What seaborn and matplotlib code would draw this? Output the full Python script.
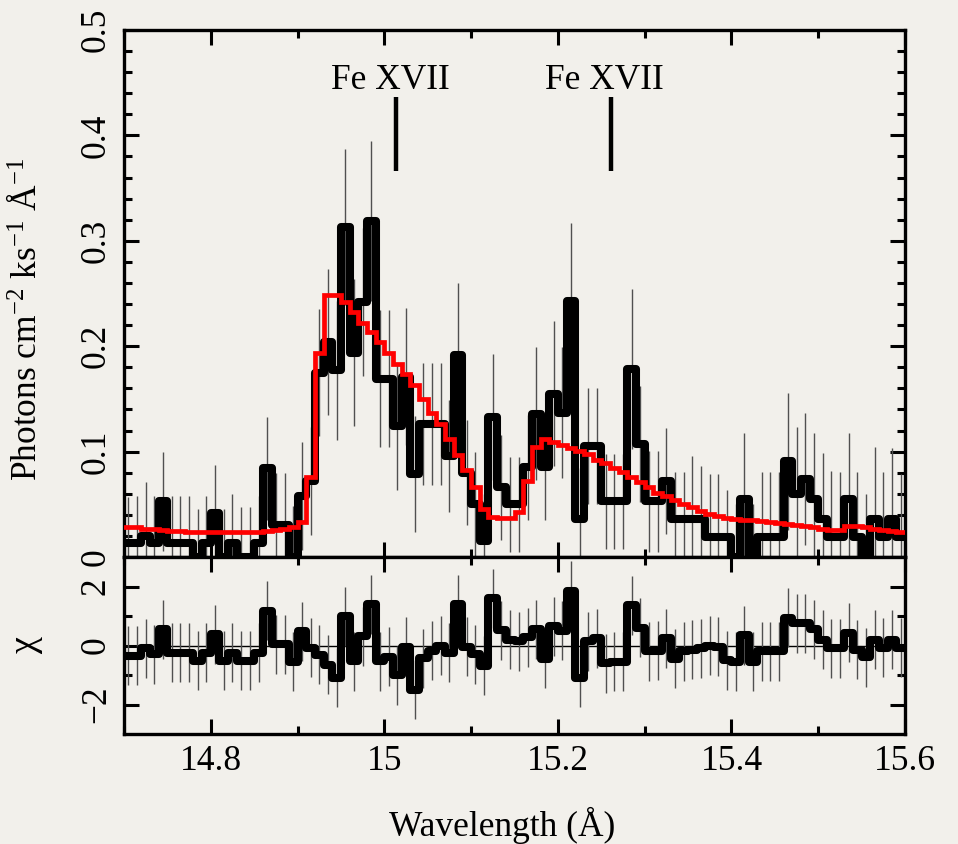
import numpy as np
import pandas as pd
import matplotlib
matplotlib.use("Agg")
import matplotlib.pyplot as plt
from matplotlib.ticker import FixedLocator
import seaborn as sns

# ---------------- data ----------------
wl_min, wl_max, n_bins = 14.70, 15.60, 90

flux = [0.013, 0.013, 0.020, 0.013, 0.053, 0.013, 0.013, 0.013, 0.000, 0.013,
        0.042, 0.000, 0.013, 0.000, 0.000, 0.013, 0.084, 0.030, 0.030, 0.000,
        0.058, 0.072, 0.175, 0.204, 0.177, 0.313, 0.194, 0.242, 0.319, 0.169,
        0.169, 0.124, 0.171, 0.079, 0.126, 0.126, 0.126, 0.096, 0.192, 0.080,
        0.050, 0.015, 0.133, 0.066, 0.050, 0.050, 0.085, 0.136, 0.085, 0.155,
        0.137, 0.243, 0.036, 0.105, 0.105, 0.053, 0.053, 0.053, 0.178, 0.107,
        0.053, 0.053, 0.072, 0.036, 0.036, 0.036, 0.036, 0.019, 0.019, 0.019,
        0.000, 0.055, 0.000, 0.019, 0.019, 0.019, 0.091, 0.060, 0.074, 0.055,
        0.036, 0.019, 0.019, 0.055, 0.019, 0.000, 0.036, 0.019, 0.036, 0.019]

flux_err = [0.044, 0.045, 0.051, 0.045, 0.047, 0.045, 0.045, 0.045, 0.046, 0.045,
            0.045, 0.046, 0.047, 0.047, 0.047, 0.045, 0.049, 0.050, 0.050, 0.048,
            0.051, 0.051, 0.060, 0.069, 0.066, 0.074, 0.070, 0.070, 0.076, 0.065,
            0.065, 0.060, 0.065, 0.055, 0.058, 0.058, 0.058, 0.053, 0.068, 0.050,
            0.050, 0.045, 0.060, 0.050, 0.045, 0.045, 0.050, 0.063, 0.050, 0.069,
            0.062, 0.074, 0.048, 0.055, 0.055, 0.045, 0.045, 0.045, 0.076, 0.055,
            0.048, 0.048, 0.050, 0.045, 0.045, 0.060, 0.050, 0.060, 0.060, 0.045,
            0.050, 0.063, 0.050, 0.062, 0.062, 0.062, 0.065, 0.063, 0.063, 0.063,
            0.063, 0.063, 0.062, 0.063, 0.062, 0.060, 0.068, 0.062, 0.067, 0.060]

model = [0.028, 0.028, 0.027, 0.027, 0.026, 0.025, 0.025, 0.024, 0.024, 0.024,
         0.024, 0.024, 0.024, 0.024, 0.024, 0.024, 0.025, 0.026, 0.027, 0.028,
         0.033, 0.076, 0.194, 0.249, 0.249, 0.242, 0.232, 0.222, 0.213, 0.204,
         0.194, 0.183, 0.174, 0.163, 0.150, 0.137, 0.126, 0.112, 0.097, 0.083,
         0.066, 0.046, 0.038, 0.037, 0.037, 0.043, 0.072, 0.104, 0.112, 0.109,
         0.106, 0.103, 0.101, 0.098, 0.092, 0.089, 0.084, 0.081, 0.076, 0.071,
         0.066, 0.061, 0.058, 0.054, 0.050, 0.047, 0.044, 0.041, 0.039, 0.037,
         0.036, 0.035, 0.035, 0.034, 0.033, 0.032, 0.031, 0.030, 0.029, 0.028,
         0.027, 0.026, 0.026, 0.029, 0.029, 0.028, 0.027, 0.026, 0.025, 0.024]

chi = [-0.34, -0.34, -0.10, -0.30, 0.55, -0.25, -0.25, -0.25, -0.52, -0.25,
       0.38, -0.52, -0.24, -0.51, -0.51, -0.24, 1.18, 0.05, 0.05, -0.55,
       0.48, -0.08, -0.31, -0.65, -1.10, 1.00, -0.54, 0.32, 1.40, -0.54,
       -0.38, -1.00, -0.05, -1.50, -0.43, -0.17, 0.00, -0.25, 1.40, -0.05,
       -0.30, -0.68, 1.60, 0.52, 0.20, 0.15, 0.28, 0.55, -0.45, 0.66,
       0.50, 1.85, -1.10, 0.15, 0.25, -0.60, -0.55, -0.55, 1.36, 0.60,
       -0.20, -0.18, 0.25, -0.45, -0.20, -0.15, -0.10, 0.00, -0.05, -0.50,
       -0.55, 0.35, -0.55, -0.20, -0.20, -0.20, 0.94, 0.75, 0.75, 0.55,
       0.20, -0.10, -0.10, 0.43, -0.15, -0.40, 0.20, -0.08, 0.20, -0.08]

line_names = ["Fe XVII", "Fe XVII"]
line_wl = [15.014, 15.261]

flux_ticks = [0.0, 0.1, 0.2, 0.3, 0.4, 0.5]
flux_tick_labels = ["0", "0.1", "0.2", "0.3", "0.4", "0.5"]
chi_ticks = [-2, 0, 2]
chi_tick_labels = ["\u22122", "0", "2"]
wl_ticks = [14.8, 15.0, 15.2, 15.4, 15.6]
wl_tick_labels = ["14.8", "15", "15.2", "15.4", "15.6"]

# ---------------- styling ----------------
BG = "#f2f0eb"
FS = 25.5
sns.set_theme(style="ticks")
plt.rcParams["font.family"] = ["Liberation Serif", "DejaVu Serif"]
plt.rcParams["mathtext.fontset"] = "custom"
plt.rcParams["mathtext.rm"] = "Liberation Serif"
plt.rcParams["mathtext.it"] = "Liberation Serif:italic"
plt.rcParams["axes.unicode_minus"] = True
plt.rcParams["text.color"] = "black"
plt.rcParams["axes.labelcolor"] = "black"
plt.rcParams["xtick.color"] = "black"
plt.rcParams["ytick.color"] = "black"

edges = np.round(np.linspace(wl_min, wl_max, n_bins + 1), 4)
centers = 0.5 * (edges[:-1] + edges[1:])

steps = pd.DataFrame({
    "wl": edges,
    "flux": flux + [flux[-1]],
    "model": model + [model[-1]],
    "chi": chi + [chi[-1]],
})
pts = pd.DataFrame({"wl": centers, "flux": flux, "err": flux_err, "chi": chi})

fig = plt.figure(figsize=(9.58, 8.44), dpi=100, facecolor=BG)
W, H = 958.0, 844.0
left, right = 124 / W, 905 / W
ax1 = fig.add_axes([left, 1 - 557 / H, right - left, (557 - 30) / H])
ax2 = fig.add_axes([left, 1 - 734 / H, right - left, (734 - 557) / H], sharex=ax1)

for ax in (ax1, ax2):
    ax.set_facecolor(BG)
    for s in ax.spines.values():
        s.set_linewidth(2.4)
        s.set_color("black")

# --- top panel ---
ax1.errorbar(pts["wl"], pts["flux"], yerr=pts["err"], fmt="none",
             ecolor="#505050", elinewidth=1.0, zorder=1)
sns.lineplot(data=steps, x="wl", y="flux", ax=ax1, drawstyle="steps-post",
             color="black", linewidth=5.8, estimator=None, sort=False,
             solid_joinstyle="round", solid_capstyle="round", zorder=2)
sns.lineplot(data=steps, x="wl", y="model", ax=ax1, drawstyle="steps-post",
             color="#ff0000", linewidth=3.4, estimator=None, sort=False,
             solid_joinstyle="miter", zorder=3)

mark_lo, mark_hi, label_y, label_dx = 0.366, 0.436, 0.444, -0.007
ax1.vlines(line_wl, mark_lo, mark_hi, color="black", linewidth=3.2, zorder=4)
for name, wl in zip(line_names, line_wl):
    ax1.text(wl + label_dx, label_y, name, ha="center", va="baseline",
             fontsize=FS, color="black")

ax1.set_xlim(wl_min, wl_max)
ax1.set_ylim(0, 0.5)
ax1.yaxis.set_major_locator(FixedLocator(flux_ticks))
ax1.set_yticklabels(flux_tick_labels, rotation=90, va="center", ha="right")
ax1.yaxis.set_minor_locator(FixedLocator(np.round(np.arange(0, 0.501, 0.02), 3)))
ax1.set_ylabel("Photons cm$^{-2}$ ks$^{-1}$ Å$^{-1}$", fontsize=FS)
ax1.yaxis.set_label_coords(-0.103, 0.45)
ax1.set_xlabel("")

# --- bottom panel ---
ax2.axhline(0, color="black", linewidth=1.0, zorder=1)
ax2.errorbar(pts["wl"], pts["chi"], yerr=1.0, fmt="none",
             ecolor="#505050", elinewidth=1.0, zorder=1)
sns.lineplot(data=steps, x="wl", y="chi", ax=ax2, drawstyle="steps-post",
             color="black", linewidth=5.8, estimator=None, sort=False,
             solid_joinstyle="round", solid_capstyle="round", zorder=2)
ax2.set_ylim(-3, 3)
ax2.yaxis.set_major_locator(FixedLocator(chi_ticks))
ax2.set_yticklabels(chi_tick_labels, rotation=90, va="center", ha="right")
ax2.yaxis.set_minor_locator(FixedLocator([-1, 1]))
ax2.set_ylabel("\u03c7", fontsize=FS + 2)
ax2.yaxis.set_label_coords(-0.103, 0.5)
ax2.set_xlim(wl_min, wl_max)
ax2.xaxis.set_major_locator(FixedLocator(wl_ticks))
ax2.set_xticklabels(wl_tick_labels)
ax2.xaxis.set_minor_locator(FixedLocator([14.7, 14.9, 15.1, 15.3, 15.5]))
ax2.set_xlabel("Wavelength (Å)", fontsize=FS)
ax2.xaxis.set_label_coords(0.484, -0.41)

for ax in (ax1, ax2):
    ax.tick_params(which="both", direction="in", top=True, right=True,
                   bottom=True, left=True, width=2.2, colors="black")
    ax.tick_params(which="major", length=11, labelsize=FS, pad=8)
    ax.tick_params(which="minor", length=6)
ax1.xaxis.set_major_locator(FixedLocator(wl_ticks))
ax1.xaxis.set_minor_locator(FixedLocator([14.7, 14.9, 15.1, 15.3, 15.5]))
ax1.tick_params(labelbottom=False)

fig.savefig("out.png", dpi=100, facecolor=BG)
